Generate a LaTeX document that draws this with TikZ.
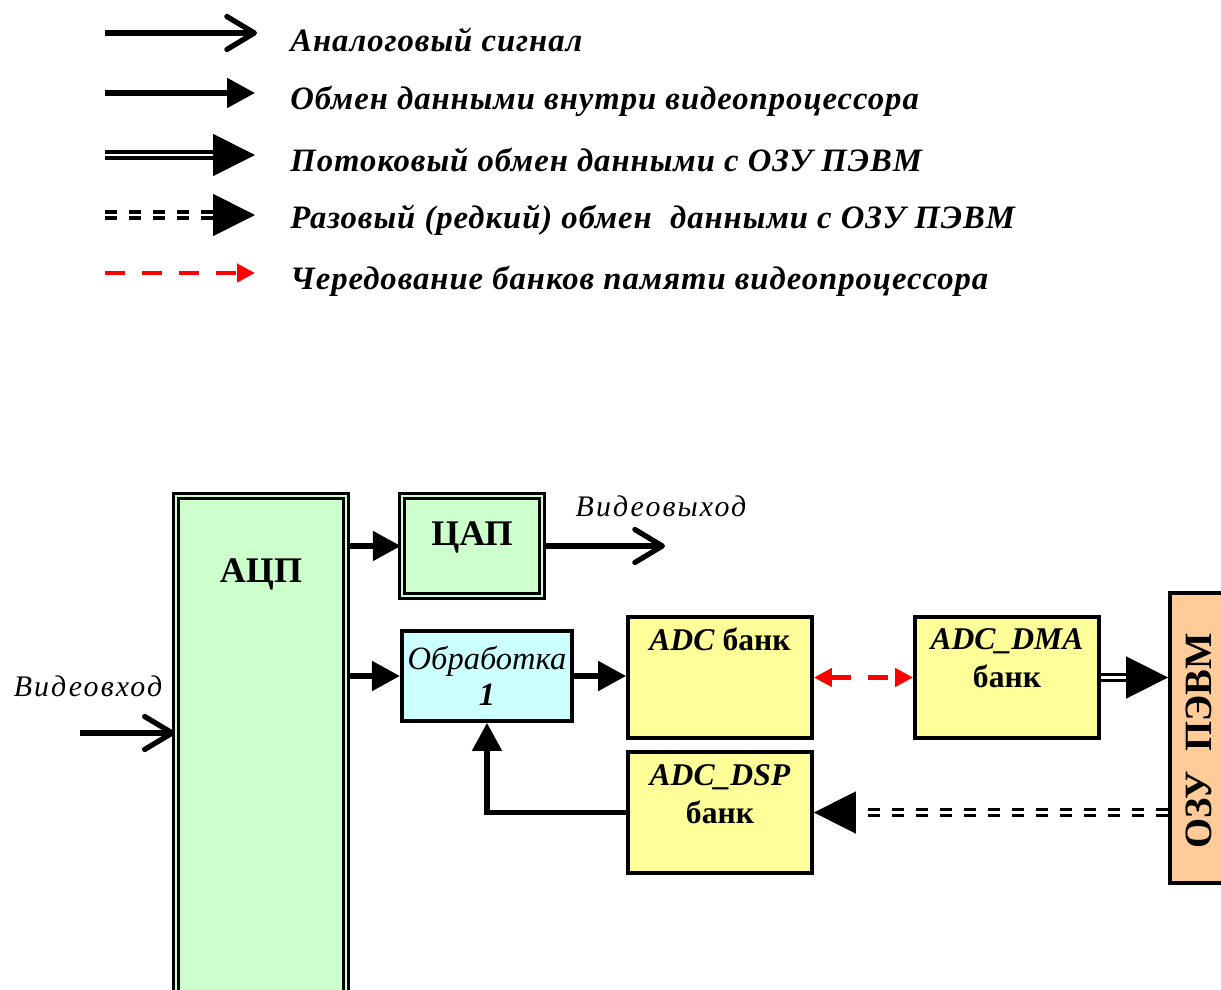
\documentclass[tikz,border=0pt]{standalone}
\usepackage{fontspec}
\setmainfont{Liberation Serif}
\newfontfamily\legfont[LetterSpace=3]{Liberation Serif}
\newfontfamily\sigfont[LetterSpace=7]{Liberation Serif}
\usetikzlibrary{arrows.meta,positioning,calc}
\definecolor{adcgreen}{RGB}{204,255,204}
\definecolor{proccyan}{RGB}{204,255,255}
\definecolor{bankyellow}{RGB}{255,255,153}
\definecolor{rampeach}{RGB}{255,204,153}

\begin{document}
\begin{tikzpicture}[x=0.02cm,y=-0.02cm]
\tikzset{b/.style={draw,line width=2.2pt,fill=bankyellow,minimum width=3.68cm,minimum height=2.42cm,inner sep=0pt},
 bb/.style={draw,line width=1.4pt,double=adcgreen,double distance=1.6pt,fill=adcgreen,inner sep=0pt},
 txt/.style={font=\fontsize{18}{21.5}\selectfont\bfseries,align=center,inner sep=0pt},
 sig/.style={font=\sigfont\fontsize{17}{20}\selectfont\itshape,inner sep=0pt},
 an/.style={line width=3pt,-{Straight Barb[length=0.55cm,width=0.66cm,round]}},
 dx/.style={line width=3pt,-{Triangle[length=0.56cm,width=0.58cm]}},
 st/.style={line width=1.8pt,double,double distance=1.7pt},
 rr/.style={line width=1.8pt,double,double distance=1.7pt,dash pattern=on 0.25cm off 0.23cm},
 bigtip/.style={line width=1pt,-{Triangle[length=0.84cm,width=0.84cm]}},
 rd/.style={red,line width=2.8pt,dash pattern=on 0.4cm off 0.34cm},
 leg/.style={anchor=west,font=\legfont\fontsize{18.6}{22}\selectfont\bfseries\itshape,inner sep=0pt}}
\useasboundingbox (0,0) rectangle (1221,990);
\clip (0,0) rectangle (1221,990);

% legend
\coordinate (l1) at (105,33); \coordinate (l1e) at (257,33);
\coordinate (l2) at (105,93); \coordinate (l2e) at (255,93);
\coordinate (l3) at (105,155); \coordinate (l3m) at (213,155); \coordinate (l3e) at (255,155);
\coordinate (l4) at (105,215); \coordinate (l4m) at (213,215); \coordinate (l4e) at (255,215);
\coordinate (l5) at (105,273); \coordinate (l5e) at (255,273);
\draw[an] (l1)--(l1e);
\draw[dx] (l2)--(l2e);
\draw[st] (l3)--(l3m); \draw[bigtip] (l3m)--(l3e);
\draw[rr] (l4)--(l4m); \draw[bigtip] (l4m)--(l4e);
\draw[rd,-{Triangle[length=0.36cm,width=0.36cm]}] (l5)--(l5e);
\node[leg] (t1) at (290,40) {Аналоговый сигнал};
\node[leg] (t2) at (290,101) {Обмен данными внутри видеопроцессора};
\node[leg] (t3) at (290,160) {Потоковый обмен данными с ОЗУ ПЭВМ};
\node[leg] (t4) at (290,220) {Разовый (редкий) обмен\ \ данными с ОЗУ ПЭВМ};
\node[leg] (t5) at (290,281) {Чередование банков памяти видеопроцессора};

% blocks
\node[bb,minimum width=3.4cm,minimum height=10.88cm] (adc) at (261,768) {};
\node[font=\fontsize{20.5}{24}\selectfont\bfseries,inner sep=0pt] (adct) at ($(adc.north)+(0,80)$) {АЦП};
\node[bb,minimum width=2.8cm,minimum height=2cm] (dac) at (472,546) {};
\node[font=\fontsize{20.5}{24}\selectfont\bfseries,inner sep=0pt] (dact) at ($(dac.north)+(0,43)$) {ЦАП};
\node[draw,line width=2.2pt,fill=proccyan,minimum width=3.4cm,minimum height=1.8cm,align=center,
  font=\fontsize{18.5}{20.4}\selectfont\itshape] (obr) at (487,676) {Обработка\\\textbf{1}};
\node[b] (adcb) at (720,677.5) {};
\node[txt] (adcbt) at ($(adcb.north)+(0,24)$) {\textit{ADC} банк};
\node[b] (dma) at (1007,677.5) {};
\node[txt] (dmat) at ($(dma.north)+(0,43)$) {\textit{ADC\_DMA}\\банк};
\node[b] (dsp) at (720,812.5) {};
\node[txt] (dspt) at ($(dsp.north)+(0,44)$) {\textit{ADC\_DSP}\\банк};
\node[draw,line width=2.2pt,fill=rampeach,minimum width=1.16cm,minimum height=5.8cm] (ozu) at (1199,738) {};
\node[rotate=90,font=\fontsize{22}{24}\selectfont\bfseries,inner sep=0pt] (ozut) at ($(ozu.center)+(0,3)$) {ОЗУ\ \ ПЭВМ};

% signals
\coordinate (vin) at (80,733);
\coordinate (vout) at (665,546);
\node[sig] (vint) at (88,686) {Видеовход};
\node[sig] (voutt) at (661,506) {Видеовыход};
\draw[an] (vin)--(vin-|adc.west);
\draw[an] (dac.east)--(vout);

% connectors
\draw[dx] (adc.east|-dac.west)--(dac.west);
\draw[dx] (adc.east|-obr.west)--(obr.west);
\draw[dx] (obr.east)--(adcb.west|-obr.east);
\draw[rd,{Triangle[length=0.36cm,width=0.36cm]}-{Triangle[length=0.36cm,width=0.36cm]}] (adcb.east)--(dma.west);
\draw[st,shorten >=0.82cm] (dma.east)--(ozu.west|-dma.east);
\draw[bigtip] ($(ozu.west|-dma.east)+(-42,0)$)--(ozu.west|-dma.east);
\draw[rr,shorten >=1cm] (ozu.west|-dsp.east)--(dsp.east);
\draw[bigtip] ($(dsp.east)+(42,0)$)--(dsp.east);
\draw[dx] (dsp.west)-|(obr.south);
\end{tikzpicture}
\end{document}
